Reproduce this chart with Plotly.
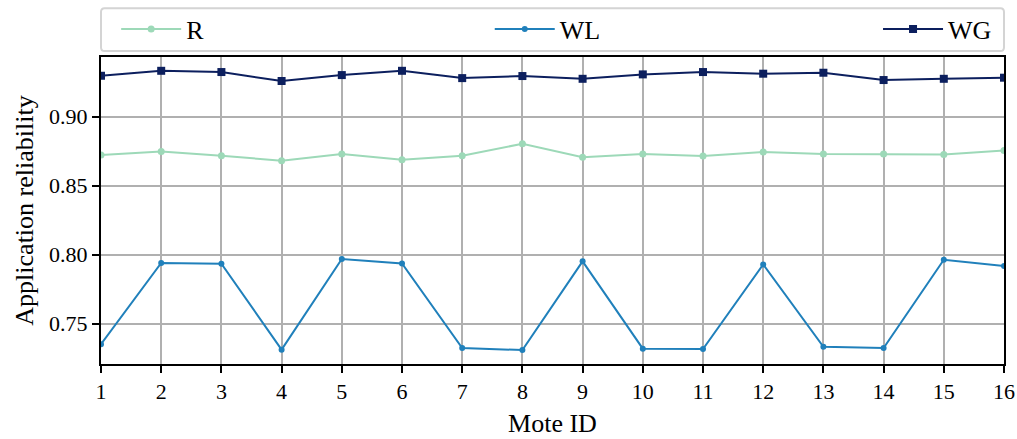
import plotly.graph_objects as go

mote_ids = list(range(1, 17))
r_vals = [0.8722, 0.8749, 0.8718, 0.8681, 0.8730, 0.8688, 0.8718, 0.8804,
          0.8706, 0.8730, 0.8715, 0.8744, 0.8730, 0.8730, 0.8727, 0.8756]
wl_vals = [0.7351, 0.7940, 0.7935, 0.7312, 0.7969, 0.7937, 0.7324, 0.7309,
           0.7952, 0.7319, 0.7317, 0.7930, 0.7333, 0.7324, 0.7964, 0.7918]
wg_vals = [0.9297, 0.9333, 0.9324, 0.9259, 0.9302, 0.9333, 0.9280, 0.9295,
           0.9275, 0.9307, 0.9324, 0.9312, 0.9319, 0.9266, 0.9275, 0.9283]
y_ticks = [0.75, 0.80, 0.85, 0.90]

FONT = "Liberation Serif, Times New Roman, serif"
C_R, C_WL, C_WG = "#9dd9b8", "#2080bb", "#0c1f5e"

fig = go.Figure()
fig.add_trace(go.Scatter(x=mote_ids, y=r_vals, name="R", mode="lines+markers",
                         line=dict(color=C_R, width=2),
                         marker=dict(symbol="circle", size=7, color=C_R),
                         legend="legend"))
fig.add_trace(go.Scatter(x=mote_ids, y=wl_vals, name="WL", mode="lines+markers",
                         line=dict(color=C_WL, width=2),
                         marker=dict(symbol="circle", size=6, color=C_WL),
                         legend="legend2"))
fig.add_trace(go.Scatter(x=mote_ids, y=wg_vals, name="WG", mode="lines+markers",
                         line=dict(color=C_WG, width=2),
                         marker=dict(symbol="square", size=8, color=C_WG),
                         legend="legend3"))

leg_common = dict(font=dict(family=FONT, size=26, color="black"),
                  bgcolor="rgba(0,0,0,0)", borderwidth=0,
                  yanchor="middle", y=1.091, xanchor="left",
                  itemwidth=60, orientation="h")

fig.update_layout(
    width=1017, height=439,
    showlegend=True,
    margin=dict(l=101, r=13, t=57, b=75, autoexpand=False),
    paper_bgcolor="white", plot_bgcolor="white",
    font=dict(family=FONT, color="black"),
    legend=dict(x=0.0168, **leg_common),
    legend2=dict(x=0.4305, **leg_common),
    legend3=dict(x=0.8605, **leg_common),
    shapes=[dict(type="path", xref="paper", yref="paper", layer="above",
                 path="M 0.004,1.0195 L 0.996,1.0195 Q 1,1.0195 1,1.032 L 1,1.1465 "
                      "Q 1,1.159 0.996,1.159 L 0.004,1.159 Q 0,1.159 0,1.1465 "
                      "L 0,1.032 Q 0,1.0195 0.004,1.0195 Z",
                 line=dict(color="#d4d4d4", width=2), fillcolor="rgba(0,0,0,0)")],
)

fig.update_xaxes(range=[1, 16], tickmode="array", tickvals=mote_ids,
                 ticks="outside", ticklen=7, tickwidth=2, tickcolor="black",
                 showline=True, linecolor="black", linewidth=2, mirror=True,
                 showgrid=True, gridcolor="#b0b0b0", gridwidth=2,
                 zeroline=False, automargin=False,
                 tickfont=dict(family=FONT, size=22, color="black"),
                 title=dict(text="Mote ID", font=dict(family=FONT, size=26, color="black"),
                            standoff=10))
fig.update_yaxes(range=[0.7208, 0.9433], tickmode="array", tickvals=y_ticks,
                 tickformat=".2f",
                 ticks="outside", ticklen=7, tickwidth=2, tickcolor="black",
                 showline=True, linecolor="black", linewidth=2, mirror=True,
                 showgrid=True, gridcolor="#b0b0b0", gridwidth=2,
                 zeroline=False, automargin=False,
                 tickfont=dict(family=FONT, size=22, color="black"),
                 title=dict(text="Application reliability",
                            font=dict(family=FONT, size=26, color="black"),
                            standoff=8))

fig.write_html("out.html",
               config={"displayModeBar": False},
               post_script="document.body.style.margin='0';"
                           "document.body.style.overflow='hidden';")
